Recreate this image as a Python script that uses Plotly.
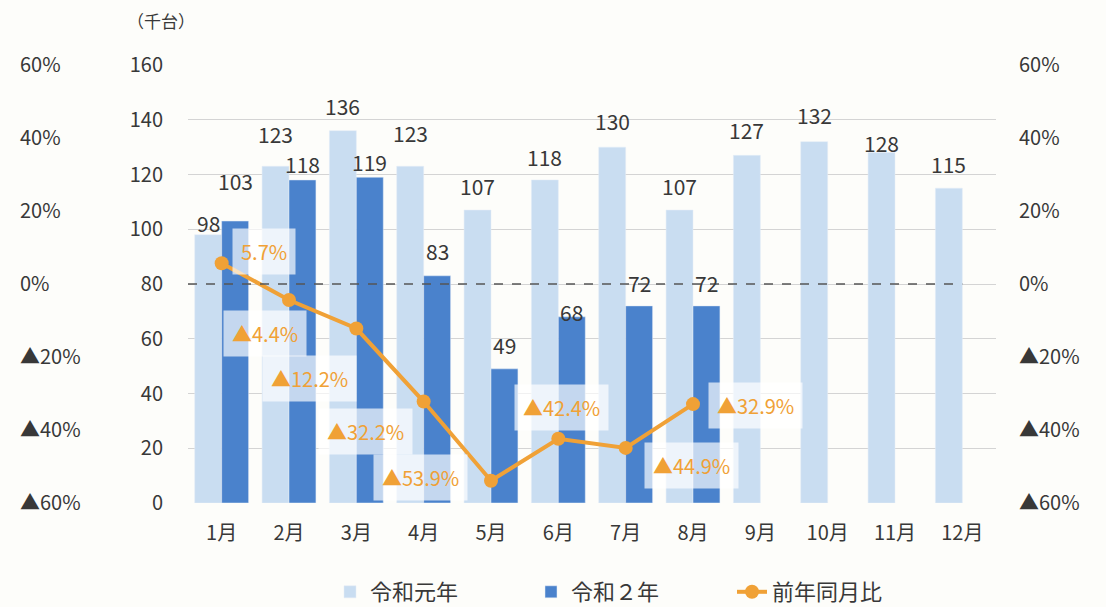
import plotly.graph_objects as go

months = ["1月", "2月", "3月", "4月", "5月", "6月", "7月", "8月", "9月", "10月", "11月", "12月"]
reiwa1 = [98, 123, 136, 123, 107, 118, 130, 107, 127, 132, 128, 115]
reiwa2 = [103, 118, 119, 83, 49, 68, 72, 72, None, None, None, None]
yoy = [5.7, -4.4, -12.2, -32.2, -53.9, -42.4, -44.9, -32.9]
pct_vals = [-60, -40, -20, 0, 20, 40, 60]
pct_text = ["▲60%", "▲40%", "▲20%", "0%", "20%", "40%", "60%"]

# label offsets (px) for the ratio labels: (dx, dy up)
label_offsets = [(42, 12), (-24, -33), (-47, -50), (-58, -30), (-71, 3), (3, 31), (66, -18), (62, -1)]
# vertical offsets (px) of the bar value labels above the bar tops
lift1 = [12, 32, 25, 33, 24, 23, 26, 24, 25, 27, 10, 24]
lift2 = [40, 16, 15, 25, 24, 5, 23, 23, 0, 0, 0, 0]

FONT = "Noto Sans CJK JP"
W, H = 1106, 607
ML, MR, MT, MB = 10, 10, 65, 104
PW = W - ML - MR
PH = H - MT - MB
x0px, x1px = 188, 996
dom = [(x0px - ML) / PW, (x1px - ML) / PW]
BARGAP = 0.2
cat_px = (x1px - x0px) / len(months)
half_bar = cat_px * (1 - BARGAP) / 4  # centre offset of each bar in a group

LIGHT = "#c9ddf1"
DARK = "#4a82cc"
ORANGE = "#f0a136"
TXT = "#383838"

fig = go.Figure()
fig.add_trace(go.Bar(x=months, y=reiwa1, name="令和元年", marker_color=LIGHT))
fig.add_trace(go.Bar(x=months, y=reiwa2, name="令和２年", marker_color=DARK))
fig.add_trace(go.Scatter(
    x=months[:len(yoy)], y=yoy, name="前年同月比", yaxis="y2",
    mode="lines+markers", line=dict(color=ORANGE, width=4),
    marker=dict(color=ORANGE, size=14), cliponaxis=False,
))

annotations = []
for m, v, lift in zip(months, reiwa1, lift1):
    annotations.append(dict(x=m, y=v, xref="x", yref="y", text=str(v), showarrow=False,
                            xshift=-half_bar, yshift=lift, yanchor="middle",
                            font=dict(size=21, color=TXT, family=FONT)))
for m, v, lift in zip(months, reiwa2, lift2):
    if v is None:
        continue
    annotations.append(dict(x=m, y=v, xref="x", yref="y", text=str(v), showarrow=False,
                            xshift=half_bar, yshift=lift, yanchor="middle",
                            font=dict(size=21, color=TXT, family=FONT)))
for m, v, (dx, dy) in zip(months, yoy, label_offsets):
    t = f"{v:.1f}%" if v >= 0 else f"▲{abs(v):.1f}%"
    annotations.append(dict(
        x=m, y=v, xref="x", yref="y2", text=t, showarrow=False,
        xshift=dx, yshift=dy, font=dict(size=20, color=ORANGE, family=FONT),
        bgcolor="rgba(255,255,255,0.68)", borderpad=8,
    ))
annotations.append(dict(
    x=(161 - ML) / PW, y=1 + (65 - 20) / PH, xref="paper", yref="paper",
    xanchor="center", yanchor="middle",
    text="（千台）", showarrow=False, font=dict(size=17, color=TXT, family=FONT),
))

fig.update_layout(
    width=W, height=H,
    margin=dict(l=ML, r=MR, t=MT, b=MB, autoexpand=False),
    paper_bgcolor="#fdfdfa", plot_bgcolor="#fdfdfa",
    font=dict(family=FONT, color=TXT),
    barmode="group", bargap=BARGAP, bargroupgap=0,
    xaxis=dict(domain=dom, type="category", range=[-0.5, len(months) - 0.5],
               showgrid=False, showline=False, automargin=False,
               tickfont=dict(size=20, color=TXT), ticks="", ticklabelstandoff=16),
    yaxis=dict(range=[0, 160], dtick=20, showgrid=True, gridcolor="#d4d4d4", gridwidth=1,
               zeroline=False, showline=False, tickfont=dict(size=20, color=TXT),
               ticklabelstandoff=24, automargin=False),
    yaxis2=dict(overlaying="y", side="right", range=[-60, 60], tickvals=pct_vals, ticktext=pct_text,
                showgrid=False, zeroline=False, showline=False,
                tickfont=dict(size=20, color=TXT), ticklabelstandoff=22, automargin=False),
    yaxis3=dict(overlaying="y", side="left", anchor="free", position=(16 - ML) / PW,
                range=[-60, 60], tickvals=pct_vals, ticktext=pct_text, ticklabelposition="inside",
                ticklabeloverflow="allow",
                showgrid=False, zeroline=False, showline=False,
                tickfont=dict(size=20, color=TXT), automargin=False),
    legend=dict(orientation="h", x=(330 - ML) / PW, xanchor="left", y=-(592 - (MT + PH)) / PH,
                yanchor="middle", font=dict(size=22, color=TXT, family=FONT),
                entrywidth=156, bgcolor="rgba(0,0,0,0)"),
    annotations=annotations,
    shapes=[dict(type="line", xref="x", yref="y2", x0=-0.5, x1=len(months) - 1, y0=0, y1=0,
                 line=dict(color="#555555", width=1.5, dash="dash"), layer="above")],
)

# invisible trace so the left-hand percentage axis is rendered
fig.add_trace(go.Scatter(x=[months[0]], y=[0], yaxis="y3", mode="markers",
                         marker=dict(opacity=0), showlegend=False, hoverinfo="skip"))

fig.write_html("out.html", config={"displayModeBar": False})

with open("out.html", encoding="utf-8") as f:
    html = f.read()
html = html.replace("<body>", '<body style="margin:0;padding:0;overflow:hidden">', 1)
html = html.replace("<head>", '<head><style>html,body{margin:0;padding:0;}</style>', 1)
with open("out.html", "w", encoding="utf-8") as f:
    f.write(html)
